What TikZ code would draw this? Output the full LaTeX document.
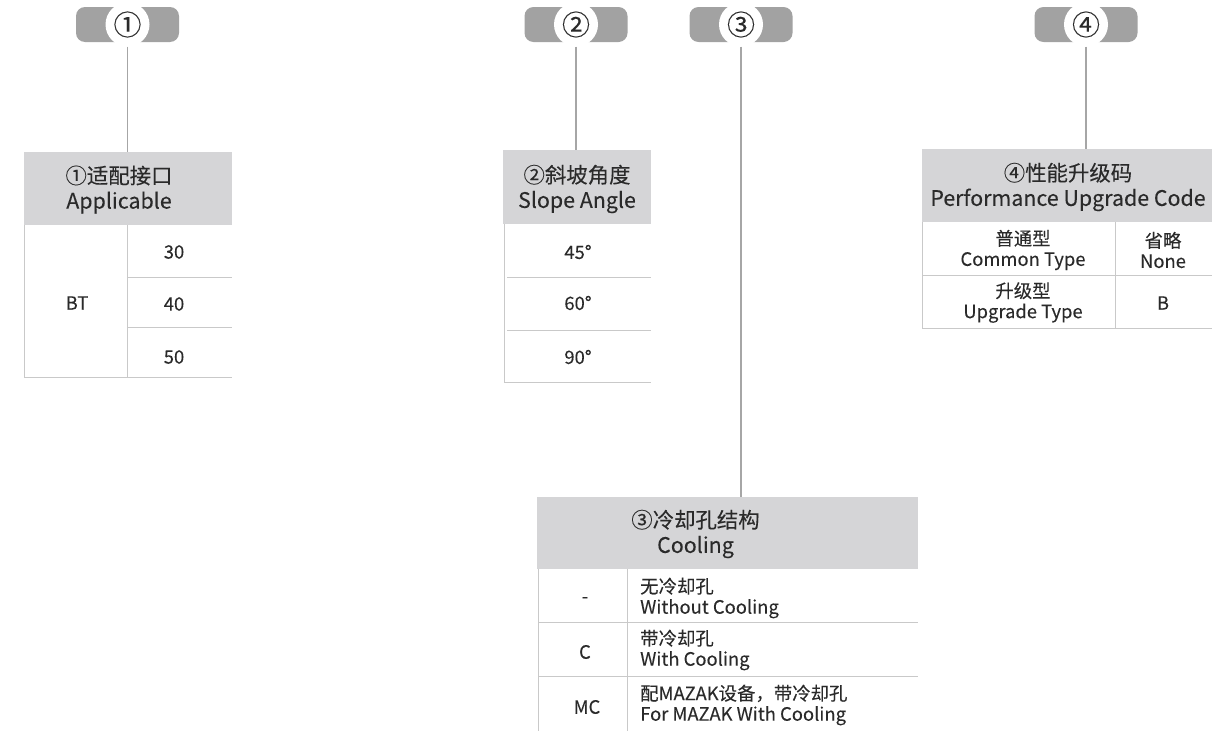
\documentclass[tikz,border=0pt]{standalone}
\usepackage{fontspec}
\setmainfont{Noto Sans CJK SC}[FakeBold=0.12]
\definecolor{tabgray}{HTML}{A2A2A2}
\definecolor{headgray}{HTML}{D5D5D7}
\definecolor{rulegray}{HTML}{C9C9C9}
\definecolor{linkgray}{HTML}{A6A6A6}
\definecolor{ink}{HTML}{2A2A2A}
\tikzset{
  tab/.style={fill=tabgray,rounded corners=9pt,minimum width=103pt,minimum height=35pt,inner sep=0pt},
  disc/.style={circle,fill=white,minimum size=44pt,inner sep=0pt,text=ink,font=\fontsize{28}{28}\selectfont},
  headbox/.style={fill=headgray,inner sep=0pt},
  title/.style={align=center,text=ink,inner sep=0pt,font=\fontsize{21.4}{25}\selectfont},
  cell/.style={align=center,text=ink,inner sep=0pt,font=\fontsize{18.4}{20.5}\selectfont},
  note/.style={align=left,anchor=west,text=ink,inner sep=0pt,font=\fontsize{18.4}{20.5}\selectfont},
  rule/.style={draw=rulegray,line width=0.9pt},
  link/.style={draw=linkgray,line width=1.2pt},
}
\begin{document}
\begin{tikzpicture}[x=1pt,y=-1pt]
	\useasboundingbox (0,0) rectangle (1226,731);
	% tabs
	\node[tab] (tab1) at (127.5,24.5) {};
	\node[disc] (num1) at (tab1) {①};
	\node[tab] (tab2) at (576,24.5) {};
	\node[disc] (num2) at (tab2) {②};
	\node[tab] (tab3) at (741,24.5) {};
	\node[disc] (num3) at (tab3) {③};
	\node[tab] (tab4) at (1086,24.5) {};
	\node[disc] (num4) at (tab4) {④};
	% headers
	\node[headbox,minimum width=208pt,minimum height=72.5pt] (head1) at (128,188.5) {};
	\node[title] (title1) at (119,189.5) {①适配接口\\Applicable};
	\node[headbox,minimum width=148pt,minimum height=74pt] (head2) at (577,187) {};
	\node[title] (title2) at (577,189) {②斜坡角度\\Slope Angle};
	\node[headbox,minimum width=381pt,minimum height=72pt] (head3) at (727.5,533) {};
	\node[title] (title3) at (695.5,534) {③冷却孔结构\\Cooling};
	\node[headbox,minimum width=290pt,minimum height=73pt] (head4) at (1067,185.5) {};
	\node[title] (title4) at (1068,187) {④性能升级码\\Performance Upgrade Code};
	% connectors
	\draw[link] (num1.south) -- (num1.south |- head1.north);
	\draw[link] (num2.south) -- (num2.south |- head2.north);
	\draw[link] (num3.south) -- (num3.south |- head3.north);
	\draw[link] (num4.south) -- (num4.south |- head4.north);
	% table 1
	\draw[rule] (24,225) -- (24,377) -- (232,377) (127,225) -- (127,377)
		(127,277) -- (232,277) (127,327) -- (232,327);
	\node[cell] (bt) at (77,303) {BT};
	\node[cell] (v30) at (174,252) {30};
	\node[cell] (v40) at (174,304) {40};
	\node[cell] (v50) at (174,357) {50};
	% table 2
	\draw[rule] (504,224) -- (504,382) -- (651,382)
		(507,277) -- (651,277) (507,330) -- (651,330);
	\node[cell] (a45) at (578,252) {45°};
	\node[cell] (a60) at (578,303) {60°};
	\node[cell] (a90) at (578,357) {90°};
	% table 3
	\draw[rule] (538,569) -- (538,731) (627,569) -- (627,731)
		(538,622) -- (918,622) (538,676) -- (918,676);
	\node[cell] (c0) at (585,600) {-};
	\node[cell] (c1) at (585,652) {C};
	\node[cell] (c2) at (587,707) {MC};
	\node[note] (n0) at (640,598) {无冷却孔\\Without Cooling};
	\node[note] (n1) at (640,650) {带冷却孔\\With Cooling};
	\node[note] (n2) at (640,705) {配MAZAK设备，带冷却孔\\For MAZAK With Cooling};
	% table 4
	\draw[rule] (922,222) -- (922,328) -- (1212,328) (1115,222) -- (1115,328)
		(922,275) -- (1212,275);
	\node[cell] (p0) at (1023,250) {普通型\\Common Type};
	\node[cell] (p1) at (1163,250) {省略\\None};
	\node[cell] (p2) at (1023,302.5) {升级型\\Upgrade Type};
	\node[cell] (p3) at (1163,303) {B};
\end{tikzpicture}
\end{document}
